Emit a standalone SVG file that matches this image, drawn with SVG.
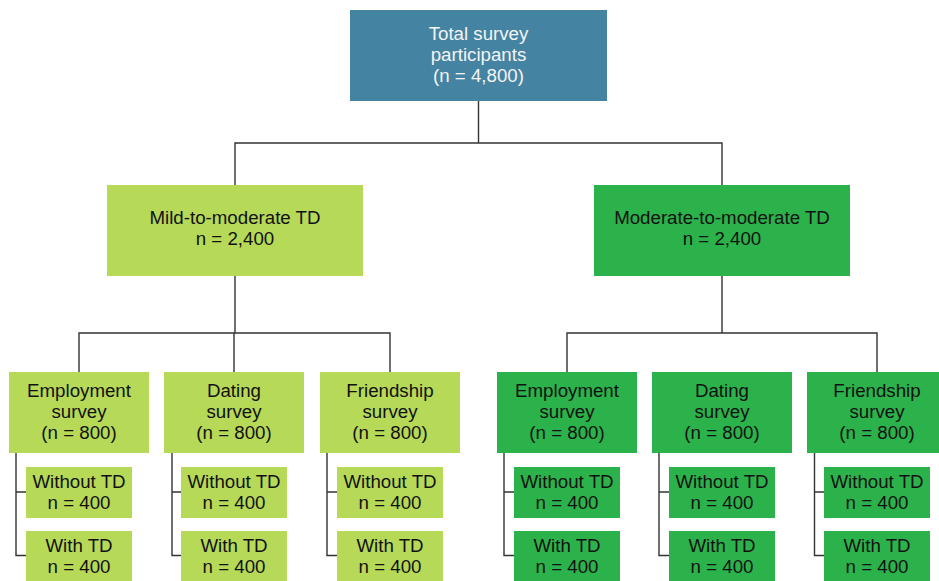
<svg xmlns="http://www.w3.org/2000/svg" width="939" height="581" viewBox="0 0 939 581">
<style>
text{font-family:"Liberation Sans",Arial,sans-serif;font-size:18.7px;text-anchor:middle;fill:#111}
.top{fill:#4583a2}
.top text{fill:#f4f4f4}
.lg{fill:#b6d957}
.dg{fill:#2bb24b}
.conn{fill:none;stroke:#333;stroke-width:1.4}
</style>
<rect width="939" height="581" fill="#fff"/>
<g id="connectors" class="conn">
<path d="M478.5 101V143M235 185V143H722V185"/>
<path d="M235 276V333M79 372V333H390V372M234 333V372"/>
<path d="M722 276V333M567 372V333H877V372"/>
<path d="M16 453V555.5H26M16 492H26"/>
<path d="M172 453V555.5H181M172 492H181"/>
<path d="M327 453V555.5H337M327 492H337"/>
<path d="M504 453V555.5H514M504 492H514"/>
<path d="M659 453V555.5H669M659 492H669"/>
<path d="M814.5 453V555.5H824M814.5 492H824"/>
</g>
<g id="total" class="top"><rect x="350" y="10" width="257" height="91"/><text x="478.5" y="40">Total survey</text><text x="478.5" y="61">participants</text><text x="478.5" y="82">(n = 4,800)</text></g>
<g id="mild"><rect class="lg" x="107" y="185" width="256" height="91"/><text x="235" y="224">Mild-to-moderate TD</text><text x="235" y="245">n = 2,400</text></g>
<g id="moderate"><rect class="dg" x="594" y="185" width="256" height="91"/><text x="722" y="224">Moderate-to-moderate TD</text><text x="722" y="245">n = 2,400</text></g>

<g id="mild-employment"><rect class="lg" x="9" y="372" width="140" height="81"/><text x="79" y="397">Employment</text><text x="79" y="418">survey</text><text x="79" y="439">(n = 800)</text></g>
<g id="mild-dating"><rect class="lg" x="164" y="372" width="140" height="81"/><text x="234" y="397">Dating</text><text x="234" y="418">survey</text><text x="234" y="439">(n = 800)</text></g>
<g id="mild-friendship"><rect class="lg" x="320" y="372" width="140" height="81"/><text x="390" y="397">Friendship</text><text x="390" y="418">survey</text><text x="390" y="439">(n = 800)</text></g>
<g id="mod-employment"><rect class="dg" x="497" y="372" width="140" height="81"/><text x="567" y="397">Employment</text><text x="567" y="418">survey</text><text x="567" y="439">(n = 800)</text></g>
<g id="mod-dating"><rect class="dg" x="652" y="372" width="140" height="81"/><text x="722" y="397">Dating</text><text x="722" y="418">survey</text><text x="722" y="439">(n = 800)</text></g>
<g id="mod-friendship"><rect class="dg" x="807" y="372" width="140" height="81"/><text x="877" y="397">Friendship</text><text x="877" y="418">survey</text><text x="877" y="439">(n = 800)</text></g>

<g id="mild-employment-without"><rect class="lg" x="26" y="467" width="106" height="51"/><text x="79" y="488">Without TD</text><text x="79" y="509">n = 400</text></g>
<g id="mild-employment-with"><rect class="lg" x="26" y="531" width="106" height="50"/><text x="79" y="552">With TD</text><text x="79" y="573">n = 400</text></g>
<g id="mild-dating-without"><rect class="lg" x="181" y="467" width="106" height="51"/><text x="234" y="488">Without TD</text><text x="234" y="509">n = 400</text></g>
<g id="mild-dating-with"><rect class="lg" x="181" y="531" width="106" height="50"/><text x="234" y="552">With TD</text><text x="234" y="573">n = 400</text></g>
<g id="mild-friendship-without"><rect class="lg" x="337" y="467" width="106" height="51"/><text x="390" y="488">Without TD</text><text x="390" y="509">n = 400</text></g>
<g id="mild-friendship-with"><rect class="lg" x="337" y="531" width="106" height="50"/><text x="390" y="552">With TD</text><text x="390" y="573">n = 400</text></g>
<g id="mod-employment-without"><rect class="dg" x="514" y="467" width="106" height="51"/><text x="567" y="488">Without TD</text><text x="567" y="509">n = 400</text></g>
<g id="mod-employment-with"><rect class="dg" x="514" y="531" width="106" height="50"/><text x="567" y="552">With TD</text><text x="567" y="573">n = 400</text></g>
<g id="mod-dating-without"><rect class="dg" x="669" y="467" width="106" height="51"/><text x="722" y="488">Without TD</text><text x="722" y="509">n = 400</text></g>
<g id="mod-dating-with"><rect class="dg" x="669" y="531" width="106" height="50"/><text x="722" y="552">With TD</text><text x="722" y="573">n = 400</text></g>
<g id="mod-friendship-without"><rect class="dg" x="824" y="467" width="106" height="51"/><text x="877" y="488">Without TD</text><text x="877" y="509">n = 400</text></g>
<g id="mod-friendship-with"><rect class="dg" x="824" y="531" width="106" height="50"/><text x="877" y="552">With TD</text><text x="877" y="573">n = 400</text></g>
</svg>
